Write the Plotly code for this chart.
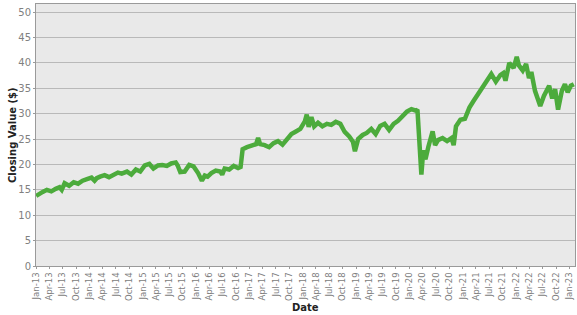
import plotly.graph_objects as go

dates = [
 "2013-01-01","2013-01-20","2013-02-15","2013-03-15","2013-04-15","2013-05-15","2013-06-10","2013-06-25","2013-07-15","2013-08-15","2013-09-15","2013-10-15","2013-11-15","2013-12-15",
 "2014-01-15","2014-02-05","2014-02-20","2014-03-15","2014-04-15","2014-05-15","2014-06-15","2014-07-15","2014-08-10","2014-09-15","2014-10-15","2014-11-15","2014-12-15",
 "2015-01-15","2015-02-15","2015-03-15","2015-04-15","2015-05-15","2015-06-15","2015-07-15","2015-08-15","2015-08-28","2015-09-15","2015-10-15","2015-11-15","2015-12-15",
 "2016-01-15","2016-02-10","2016-03-01","2016-03-20","2016-04-15","2016-05-15","2016-06-15","2016-06-28","2016-07-15","2016-08-15","2016-09-15","2016-10-15","2016-11-01","2016-11-15","2016-12-15",
 "2017-01-15","2017-02-15","2017-03-01","2017-03-15","2017-04-15","2017-05-15","2017-06-15","2017-07-15","2017-08-15","2017-09-15","2017-10-15","2017-11-15","2017-12-15",
 "2018-01-15","2018-01-28","2018-02-10","2018-03-01","2018-03-20","2018-04-15","2018-05-15","2018-06-15","2018-07-15","2018-08-15","2018-09-15","2018-10-15","2018-11-15","2018-12-10","2018-12-24",
 "2019-01-15","2019-02-15","2019-03-15","2019-04-15","2019-05-15","2019-06-15","2019-07-15","2019-08-15","2019-09-15","2019-10-15","2019-11-15","2019-12-15",
 "2020-01-15","2020-02-15","2020-02-25","2020-03-10","2020-03-23","2020-04-05","2020-04-20","2020-05-10","2020-06-08","2020-06-25","2020-07-15","2020-08-15","2020-09-15","2020-10-15","2020-10-30","2020-11-15","2020-12-15",
 "2021-01-15","2021-02-15","2021-03-15","2021-04-15","2021-05-15","2021-06-15","2021-07-15","2021-08-15","2021-09-15","2021-10-05","2021-10-20","2021-11-15","2021-12-15",
 "2022-01-05","2022-01-20","2022-02-15","2022-03-10","2022-03-30","2022-04-15","2022-05-10","2022-05-25","2022-06-15","2022-07-10","2022-08-15","2022-09-05","2022-09-25","2022-10-15","2022-11-10","2022-12-01","2022-12-20",
 "2023-01-10","2023-01-31",
]
closing = [
 13.8,14.2,14.6,15.0,14.7,15.2,15.5,15.0,16.3,15.8,16.5,16.2,16.8,17.1,
 17.4,16.8,17.3,17.6,17.9,17.5,18.0,18.4,18.2,18.6,18.0,19.0,18.6,
 19.8,20.1,19.2,19.8,19.9,19.7,20.2,20.4,19.8,18.5,18.6,19.9,19.6,
 18.3,16.8,17.8,17.6,18.3,18.8,18.6,18.0,19.2,19.0,19.7,19.3,19.5,23.0,23.4,
 23.6,24.0,25.2,24.0,23.8,23.4,24.2,24.6,23.9,25.0,26.0,26.5,27.0,
 28.5,29.8,27.4,29.3,27.5,28.2,27.5,28.0,27.8,28.4,28.0,26.4,25.5,24.5,22.6,
 25.0,25.8,26.2,27.0,26.0,27.6,28.0,26.8,28.0,28.6,29.6,30.4,
 30.9,30.6,30.8,23.5,18.0,22.8,21.0,23.5,26.5,23.8,24.8,25.2,24.6,25.2,23.8,27.5,28.8,
 29.0,31.2,32.5,33.8,35.2,36.5,37.8,36.3,37.6,38.0,36.5,40.0,39.0,
 41.2,39.5,38.5,39.8,37.0,38.2,34.5,33.0,31.5,33.5,35.5,33.0,34.8,30.8,34.5,35.8,34.2,
 35.5,35.8,
]
tick_vals = ["2013-01-01","2013-04-01","2013-07-01","2013-10-01","2014-01-01","2014-04-01","2014-07-01","2014-10-01",
 "2015-01-01","2015-04-01","2015-07-01","2015-10-01","2016-01-01","2016-04-01","2016-07-01","2016-10-01",
 "2017-01-01","2017-04-01","2017-07-01","2017-10-01","2018-01-01","2018-04-01","2018-07-01","2018-10-01",
 "2019-01-01","2019-04-01","2019-07-01","2019-10-01","2020-01-01","2020-04-01","2020-07-01","2020-10-01",
 "2021-01-01","2021-04-01","2021-07-01","2021-10-01","2022-01-01","2022-04-01","2022-07-01","2022-10-01","2023-01-01"]
months = {"01": "Jan", "04": "Apr", "07": "Jul", "10": "Oct"}
tick_text = [months[v[5:7]] + "-" + v[2:4] for v in tick_vals]

fig = go.Figure(go.Scatter(x=dates, y=closing, mode="lines",
    line=dict(color="#4cab3c", width=4.5), hoverinfo="skip"))

fig.update_layout(
    width=577, height=315, margin=dict(l=36, r=2, t=4, b=49),
    paper_bgcolor="white", plot_bgcolor="#e9e9e9",
    showlegend=False, font=dict(family="DejaVu Sans", size=10, color="#808080"),
    annotations=[
        dict(text="<b>Closing Value ($)</b>", xref="paper", yref="paper", x=0, y=0.5,
             xanchor="center", yanchor="middle", xshift=-24, textangle=-90, showarrow=False,
             font=dict(size=10, color="#222")),
        dict(text="<b>Date</b>", xref="paper", yref="paper", x=0.5, y=0,
             xanchor="center", yanchor="middle", yshift=-41, showarrow=False,
             font=dict(size=10, color="#222")),
    ],
)
fig.update_xaxes(range=["2012-12-31", "2023-02-08"], tickvals=tick_vals, ticktext=tick_text,
    tickangle=-90, showgrid=False, showline=True, linecolor="#9a9a9a", mirror=True,
    ticks="outside", ticklen=2, tickcolor="#9a9a9a", automargin=False,
    tickfont=dict(size=8.5))
fig.update_yaxes(range=[0, 51.6], dtick=5, showgrid=True, gridcolor="#b9b9b9", gridwidth=1,
    showline=True, linecolor="#9a9a9a", mirror=True, zeroline=False,
    ticks="outside", ticklen=2, tickcolor="#9a9a9a", automargin=False)

fig.write_html("out.html")
